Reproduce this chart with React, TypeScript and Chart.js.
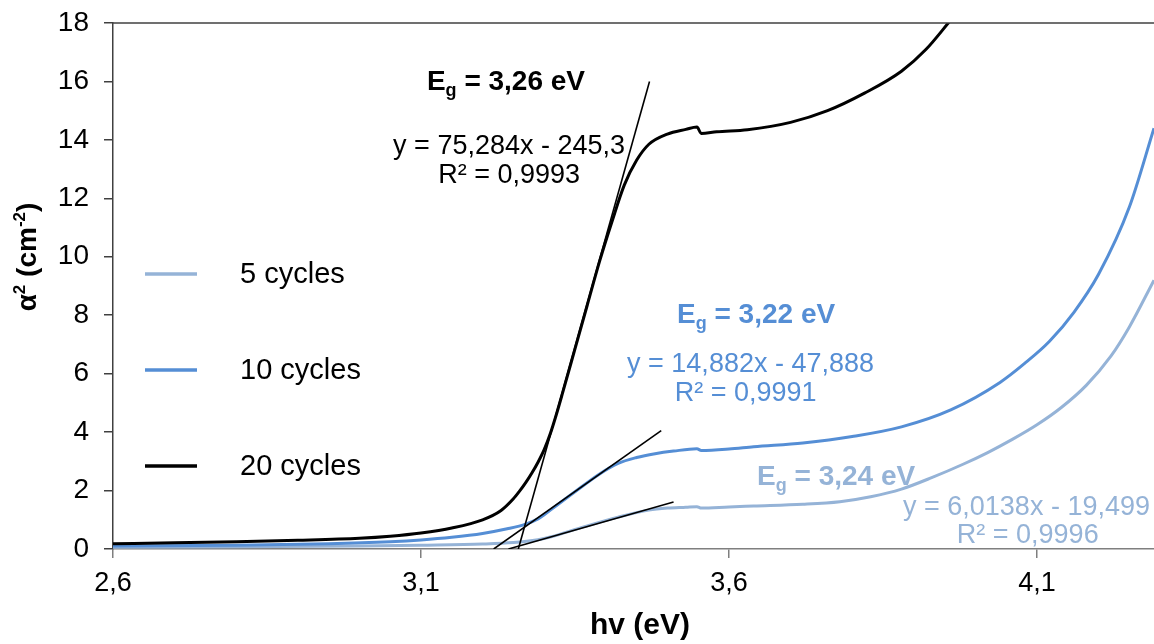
import React, { useEffect, useRef } from 'react';
import { Chart, registerables } from 'chart.js';

Chart.register(...registerables);

const FONT = '"Liberation Sans", Arial, Helvetica, sans-serif';

// ---------- data ----------
const seriesLabels = ['5 cycles', '10 cycles', '20 cycles'];

const energy5 = [2.60, 2.80, 3.00, 3.10, 3.20, 3.25, 3.29, 3.31, 3.36, 3.42, 3.47, 3.50, 3.53, 3.548, 3.555, 3.60, 3.64, 3.72, 3.78, 3.83, 3.88, 3.93, 3.98, 4.02, 4.06, 4.10, 4.14, 4.18, 4.22, 4.25, 4.29];
const alpha5 = [0.06, 0.08, 0.10, 0.13, 0.17, 0.22, 0.32, 0.41, 0.73, 1.09, 1.33, 1.40, 1.43, 1.45, 1.40, 1.44, 1.47, 1.53, 1.62, 1.79, 2.05, 2.45, 2.90, 3.30, 3.75, 4.25, 4.85, 5.60, 6.60, 7.60, 9.20];

const energy10 = [2.60, 2.80, 2.95, 3.05, 3.10, 3.15, 3.20, 3.24, 3.27, 3.29, 3.30, 3.31, 3.35, 3.39, 3.42, 3.45, 3.48, 3.51, 3.548, 3.555, 3.60, 3.64, 3.72, 3.80, 3.88, 3.96, 4.04, 4.08, 4.12, 4.16, 4.20, 4.25, 4.29];
const alpha10 = [0.10, 0.13, 0.18, 0.25, 0.31, 0.40, 0.53, 0.69, 0.85, 1.03, 1.17, 1.33, 1.96, 2.57, 2.93, 3.13, 3.26, 3.35, 3.43, 3.37, 3.42, 3.50, 3.63, 3.85, 4.18, 4.76, 5.7, 6.35, 7.1, 8.1, 9.4, 11.7, 14.4];

const energy20 = [2.60, 2.70, 2.80, 2.90, 3.00, 3.05, 3.10, 3.15, 3.20, 3.23, 3.25, 3.26, 3.27, 3.28, 3.29, 3.30, 3.31, 3.32, 3.33, 3.35, 3.37, 3.39, 3.41, 3.43, 3.45, 3.47, 3.50, 3.53, 3.548, 3.555, 3.58, 3.63, 3.70, 3.76, 3.82, 3.88, 3.92, 3.96, 3.98];
const alpha20 = [0.18, 0.21, 0.25, 0.30, 0.37, 0.44, 0.55, 0.72, 1.00, 1.32, 1.72, 1.98, 2.27, 2.60, 2.97, 3.40, 3.95, 4.62, 5.35, 6.85, 8.35, 9.85, 11.20, 12.45, 13.30, 13.85, 14.20, 14.36, 14.44, 14.22, 14.28, 14.35, 14.60, 15.00, 15.60, 16.35, 17.10, 18.10, 18.60];

// linear-fit (tangent) segments, end points
const fit5X = [3.242, 3.51];
const fit5Y = [0, 1.61];
const fit10X = [3.218, 3.49];
const fit10Y = [0, 4.05];
const fit20X = [3.258, 3.471];
const fit20Y = [0, 16.0];

const egValues = ['3,24 eV', '3,22 eV', '3,26 eV'];
const fitEquations = ['y = 6,0138x - 19,499', 'y = 14,882x - 47,888', 'y = 75,284x - 245,3'];
const fitR2 = ['R² = 0,9996', 'R² = 0,9991', 'R² = 0,9993'];

const xTickValues = [2.6, 3.1, 3.6, 4.1];
const xMin = 2.6;
const xMax = 4.29;
const yMin = 0;
const yMax = 18;
const yStep = 2;

// ---------- styles ----------
const COLORS = ['#95B3D7', '#558ED5', '#000000'];

export default function App() {
  const ref = useRef<HTMLCanvasElement>(null);

  useEffect(() => {
    const canvas = ref.current;
    if (!canvas) return;

    const toPts = (xs: number[], ys: number[]) => xs.map((x, i) => ({ x, y: ys[i] }));
    const curve = (label: string, xs: number[], ys: number[], color: string, order: number) => ({
      label,
      data: toPts(xs, ys),
      borderColor: color,
      backgroundColor: color,
      borderWidth: 3,
      pointRadius: 0,
      pointHoverRadius: 0,
      cubicInterpolationMode: 'monotone' as const,
      fill: false,
      order,
    });
    const fit = (xs: number[], ys: number[]) => ({
      label: '',
      data: toPts(xs, ys),
      borderColor: '#000000',
      borderWidth: 1.6,
      pointRadius: 0,
      pointHoverRadius: 0,
      fill: false,
      tension: 0,
      order: 0,
    });

    const drawEg = (ctx: CanvasRenderingContext2D, cx: number, base: number, value: string, color: string, size: number) => {
      const big = `bold ${size}px ${FONT}`;
      const small = `bold ${Math.round(size * 0.66)}px ${FONT}`;
      ctx.font = big;
      const wE = ctx.measureText('E').width;
      const rest = ' = ' + value;
      const wR = ctx.measureText(rest).width;
      ctx.font = small;
      const wg = ctx.measureText('g').width;
      const x0 = cx - (wE + wg + wR) / 2;
      ctx.fillStyle = color;
      ctx.textAlign = 'left';
      ctx.textBaseline = 'alphabetic';
      ctx.font = big;
      ctx.fillText('E', x0, base);
      ctx.font = small;
      ctx.fillText('g', x0 + wE, base + size * 0.22);
      ctx.font = big;
      ctx.fillText(rest, x0 + wE + wg, base);
    };

    const overlay = {
      id: 'overlay',
      afterDraw(chart: any) {
        const ctx: CanvasRenderingContext2D = chart.ctx;
        const { chartArea } = chart;
        const xs = chart.scales.x;
        const ys = chart.scales.y;
        ctx.save();

        // top border
        ctx.strokeStyle = '#404040';
        ctx.lineWidth = 1.5;
        ctx.beginPath();
        ctx.moveTo(chartArea.left, chartArea.top);
        ctx.lineTo(chartArea.right, chartArea.top);
        ctx.stroke();

        // legend
        const legendY = [274, 370, 466];
        for (let i = 0; i < 3; i++) {
          ctx.strokeStyle = COLORS[i];
          ctx.lineWidth = 3.5;
          ctx.beginPath();
          ctx.moveTo(145, legendY[i]);
          ctx.lineTo(197, legendY[i]);
          ctx.stroke();
          ctx.fillStyle = '#000000';
          ctx.font = `29px ${FONT}`;
          ctx.textAlign = 'left';
          ctx.textBaseline = 'middle';
          ctx.fillText(seriesLabels[i], 240, legendY[i] + 1);
        }

        // annotations (anchored in data coordinates)
        const anchors = [
          { eg: [3.774, 2.19], eq: [4.083, 1.16], r2: [4.085, 0.21] },
          { eg: [3.644, 7.73], eq: [3.635, 6.06], r2: [3.627, 5.06] },
          { eg: [3.238, 15.71], eq: [3.243, 13.52], r2: [3.243, 12.52] },
        ];
        const textColors = ['#95B3D7', '#558ED5', '#000000'];
        for (let i = 0; i < 3; i++) {
          const a = anchors[i];
          drawEg(ctx, xs.getPixelForValue(a.eg[0]), ys.getPixelForValue(a.eg[1]), egValues[i], textColors[i], 28);
          ctx.fillStyle = textColors[i];
          ctx.font = `27px ${FONT}`;
          ctx.textAlign = 'center';
          ctx.textBaseline = 'alphabetic';
          ctx.fillText(fitEquations[i], xs.getPixelForValue(a.eq[0]), ys.getPixelForValue(a.eq[1]));
          ctx.fillText(fitR2[i], xs.getPixelForValue(a.r2[0]), ys.getPixelForValue(a.r2[1]));
        }

        // x title
        ctx.fillStyle = '#000000';
        ctx.font = `bold 30px ${FONT}`;
        ctx.textAlign = 'center';
        ctx.textBaseline = 'alphabetic';
        ctx.fillText('hv (eV)', 640, 634);

        // y title with superscripts
        ctx.translate(36, 257);
        ctx.rotate(-Math.PI / 2);
        const big = `bold 28px ${FONT}`;
        const sup = `bold 17px ${FONT}`;
        const parts: [string, string, number][] = [
          ['α', big, 0],
          ['2', sup, -11],
          [' (cm', big, 0],
          ['-2', sup, -11],
          [')', big, 0],
        ];
        let total = 0;
        for (const p of parts) { ctx.font = p[1]; total += ctx.measureText(p[0]).width; }
        let x = -total / 2;
        ctx.textAlign = 'left';
        for (const p of parts) {
          ctx.font = p[1];
          ctx.fillText(p[0], x, p[2]);
          x += ctx.measureText(p[0]).width;
        }
        ctx.restore();
      },
    };

    const chart = new Chart(canvas, {
      type: 'line',
      data: {
        datasets: [
          fit(fit20X, fit20Y),
          fit(fit10X, fit10Y),
          fit(fit5X, fit5Y),
          curve(seriesLabels[2], energy20, alpha20, COLORS[2], 1),
          curve(seriesLabels[1], energy10, alpha10, COLORS[1], 2),
          curve(seriesLabels[0], energy5, alpha5, COLORS[0], 3),
        ] as any,
      },
      options: {
        animation: false,
        responsive: true,
        maintainAspectRatio: false,
        layout: { padding: { top: 23, right: 0, left: 0, bottom: 0 } },
        plugins: {
          legend: { display: false },
          tooltip: { enabled: false },
        },
        scales: {
          x: {
            type: 'linear',
            min: xMin,
            max: xMax,
            afterBuildTicks: (s: any) => { s.ticks = xTickValues.map((v) => ({ value: v })); },
            afterFit: (s: any) => { s.height = 95; s.paddingLeft = 0; s.paddingRight = 0; },
            ticks: {
              color: '#000000',
              font: { family: FONT, size: 27 },
              padding: 9,
              maxRotation: 0,
              autoSkip: false,
              callback: (v: any) => Number(v).toFixed(1).replace('.', ','),
            },
            grid: { drawOnChartArea: false, tickLength: 9, color: '#7f7f7f', lineWidth: 1.5 },
            border: { color: '#7f7f7f', width: 1.5 },
          },
          y: {
            type: 'linear',
            min: yMin,
            max: yMax,
            afterFit: (s: any) => { s.width = 113; s.paddingTop = 0; s.paddingBottom = 0; },
            ticks: {
              stepSize: yStep,
              color: '#000000',
              font: { family: FONT, size: 28 },
              padding: 15,
            },
            grid: { drawOnChartArea: false, tickLength: 9, color: '#404040', lineWidth: 1.5 },
            border: { color: '#404040', width: 1.5 },
          },
        },
      } as any,
      plugins: [overlay],
    });

    return () => chart.destroy();
  }, []);

  return (
    <div style={{ position: 'fixed', left: 0, top: 0, width: 1154, height: 644, background: '#ffffff' }}>
      <canvas ref={ref} />
    </div>
  );
}
